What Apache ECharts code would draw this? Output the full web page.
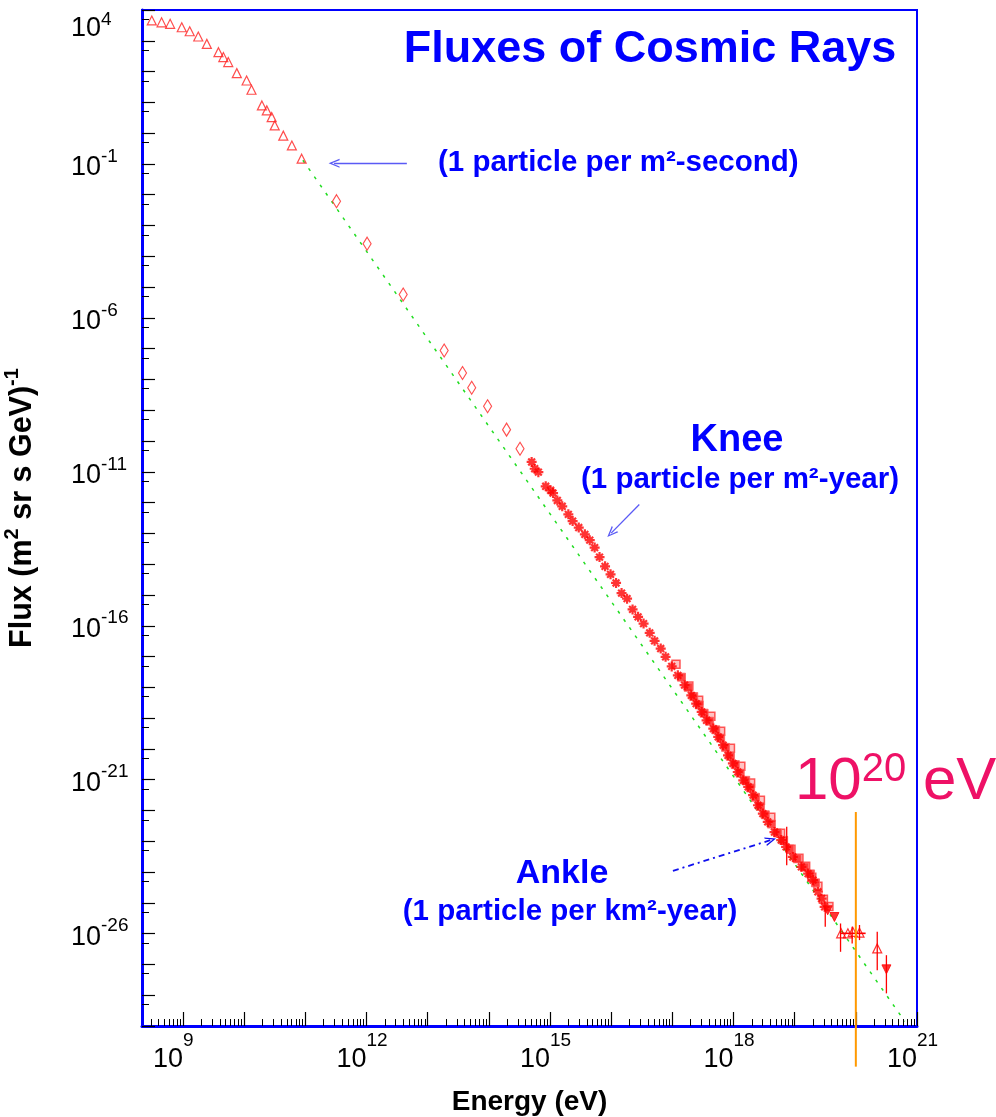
<!DOCTYPE html>
<html><head><meta charset="utf-8">
<script src="https://cdn.jsdelivr.net/npm/echarts@6/dist/echarts.min.js"></script>
<style>html,body{margin:0;padding:0;background:#fff}#c{width:996px;height:1117px}</style>
</head><body><div id="c"></div>
<script>
// All values are log10: energy in eV, flux in (m^2 sr s GeV)^-1
const triLogE = [8.49, 8.65, 8.79, 8.98, 9.11, 9.25, 9.39, 9.58, 9.66, 9.74, 9.88, 10.04, 10.12, 10.29, 10.37, 10.45, 10.50, 10.64, 10.78, 10.94];
const triLogF = [3.66, 3.60, 3.55, 3.44, 3.31, 3.14, 2.90, 2.63, 2.47, 2.31, 1.95, 1.71, 1.41, 0.90, 0.74, 0.52, 0.25, -0.08, -0.40, -0.83];

const diaLogE = [11.51, 12.01, 12.60, 13.27, 13.57, 13.72, 13.98, 14.29, 14.51];
const diaLogF = [-2.21, -3.59, -5.24, -7.06, -7.79, -8.27, -8.87, -9.63, -10.25];

const starLogE = [14.70, 14.75, 14.81, 14.93, 15.01, 15.05, 15.12, 15.20, 15.30, 15.37, 15.47, 15.57, 15.65, 15.73, 15.81, 15.90, 15.99, 16.08, 16.17, 16.26, 16.35, 16.44, 16.53, 16.63, 16.71, 16.81, 16.89, 16.99, 17.09, 17.20, 17.31, 17.39, 17.48, 17.56, 17.67, 17.75, 17.83, 17.91, 17.99, 18.07, 18.16, 18.24, 18.32, 18.40, 18.48, 18.56, 18.67, 18.78, 18.86, 18.97, 19.11, 19.22, 19.30, 19.38, 19.44, 19.49];
const starLogF = [-10.68, -10.90, -11.01, -11.47, -11.60, -11.69, -11.93, -12.12, -12.38, -12.60, -12.81, -13.03, -13.22, -13.46, -13.77, -14.07, -14.33, -14.61, -14.94, -15.12, -15.47, -15.71, -15.93, -16.23, -16.49, -16.74, -17.01, -17.32, -17.61, -17.93, -18.26, -18.53, -18.80, -19.07, -19.34, -19.61, -19.88, -20.21, -20.47, -20.75, -21.02, -21.23, -21.50, -21.83, -22.10, -22.37, -22.70, -22.96, -23.18, -23.51, -23.83, -24.05, -24.26, -24.64, -24.86, -25.13];

const sqLogE = [17.06, 17.27, 17.43, 17.63, 17.79, 17.95, 18.12, 18.28, 18.44, 18.61, 18.77, 18.94, 19.07, 19.18, 19.28, 19.38, 19.47, 19.56];
const sqLogF = [-17.25, -17.96, -18.42, -18.94, -19.43, -19.98, -20.56, -21.11, -21.67, -22.22, -22.74, -23.26, -23.55, -23.81, -24.17, -24.46, -24.88, -25.12];

const bandLogE = [17.15, 17.26, 17.35, 17.44, 17.52, 17.61, 17.71, 17.79, 17.87, 17.95, 18.03, 18.11, 18.20, 18.28, 18.36, 18.44, 18.52, 18.62, 18.72, 18.82, 18.92, 19.04, 19.16, 19.26, 19.34];
const bandLogF = [-17.67, -18.00, -18.30, -18.57, -18.84, -19.10, -19.38, -19.65, -19.95, -20.24, -20.51, -20.79, -21.02, -21.27, -21.57, -21.87, -22.14, -22.44, -22.73, -22.97, -23.25, -23.57, -23.84, -24.06, -24.35];

const downLogE = [19.54, 19.65, 20.50];
const downLogF = [-25.24, -25.46, -27.16];

const upLogE = [19.76, 19.87, 19.95, 20.06, 20.35];
const upLogF = [-25.99, -25.99, -25.94, -25.97, -26.48];

const errLogE  = [18.87, 19.50, 19.75, 19.94, 20.06, 20.35, 20.50];
const errLogLo = [-23.78, -25.78, -26.59, -26.32, -26.21, -27.19, -27.94];
const errLogHi = [-22.53, -25.13, -25.67, -25.78, -25.72, -25.94, -26.70];

const hErrLogELo = [19.74];
const hErrLogEHi = [20.16];
const hErrLogF = [-25.99];

const fitLogE = [10.96, 20.80];
const fitLogF = [-0.88, -28.85];

const markerLogE = [20.0, 20.0];
const markerLogF = [-22.05, -30.32];

// annotation arrows [fromE, fromF, toE, toF]
const arrowSecond = [12.66, -0.98, 11.47, -0.98];
const arrowKnee   = [16.46, -12.06, 16.00, -12.99];
const arrowAnkle  = [17.01, -23.96, 18.61, -22.96];

const xLabelExps = [9, 12, 15, 18, 21];
const yLabelExps = [-1, -6, -11, -16, -21, -26];
const yTopLabelExps = [4];
const X_MIN = 8.33, X_MAX = 21, Y_MIN = -29, Y_MAX = 4;

const xMajor = [], xMinor = [], yMajor = [], yMinor = [];
for (let n = 9; n <= 21; n++) xMajor.push(n);
for (let n = 8; n <= 20; n++) for (let k = 2; k <= 9; k++) { const v = n + Math.log10(k); if (v > X_MIN && v < X_MAX) xMinor.push(v); }
for (let n = Y_MIN; n <= Y_MAX; n++) yMajor.push(n);
for (let n = Y_MIN + 1; n <= Y_MAX; n++) yMinor.push(n - Math.log10(2));

const zip = (a, b) => a.map((v, i) => [v, b[i]]);
const FONT = 'Liberation Sans, Arial, sans-serif';
const BLUE = '#0000ff';
const RED = '#ff0000';

const starPath = 'path://M5,0L5,10M0,5L10,5M1.6,1.6L8.4,8.4M8.4,1.6L1.6,8.4';
const chevron = 'path://M5,0L10,10L8.4,10L5,3L1.6,10L0,10Z';

const labelRich = {
  b: {fontSize: 27, lineHeight: 34, verticalAlign: 'bottom', color: '#000', fontFamily: FONT},
  s: {fontSize: 19, lineHeight: 19, verticalAlign: 'top', color: '#000', fontFamily: FONT},
  b4: {fontSize: 27, lineHeight: 32, verticalAlign: 'bottom', color: '#000', fontFamily: FONT},
  s4: {fontSize: 19, lineHeight: 19, verticalAlign: 'top', color: '#000', fontFamily: FONT}
};

const chart = echarts.init(document.getElementById('c'), null, {renderer: 'canvas'});
const option = {
  animation: false,
  backgroundColor: '#fff',
  grid: {left: 142, right: 79, top: 10, bottom: 91, show: true, borderColor: BLUE, borderWidth: 2, backgroundColor: '#fff',
    containLabel: false, outerBoundsMode: 'none'},
  xAxis: [
    {
      type: 'value', min: X_MIN, max: X_MAX, position: 'bottom',
      axisLine: {show: true, onZero: false, lineStyle: {color: BLUE, width: 3}},
      axisTick: {show: true, inside: true, length: 14, customValues: xMajor, lineStyle: {color: '#000', width: 1.2}},
      axisLabel: {show: true, customValues: xLabelExps, formatter: () => '10', align: 'right', margin: 20,
        fontSize: 27, color: '#000', fontFamily: FONT},
      splitLine: {show: false},
      name: 'Energy (eV)', nameLocation: 'middle', nameGap: 62,
      nameTextStyle: {fontSize: 28, fontWeight: 'bold', color: '#000', fontFamily: FONT}
    },
    {
      type: 'value', min: X_MIN, max: X_MAX, position: 'bottom',
      axisLine: {show: false, onZero: false},
      axisTick: {show: true, inside: true, length: 7, customValues: xMinor, lineStyle: {color: '#000', width: 1}},
      axisLabel: {show: true, customValues: xLabelExps, formatter: v => String(Math.round(v)), align: 'left', margin: 5,
        fontSize: 19, color: '#000', fontFamily: FONT},
      splitLine: {show: false}
    }
  ],
  yAxis: [
    {
      type: 'value', min: Y_MIN, max: Y_MAX, position: 'left',
      axisLine: {show: true, onZero: false, lineStyle: {color: BLUE, width: 3}},
      axisTick: {show: true, inside: true, length: 13, customValues: yMajor, lineStyle: {color: '#000', width: 1.2}},
      axisLabel: {
        show: true, customValues: yLabelExps, align: 'left', margin: 71,
        formatter: v => '{b|10}{s|' + Math.round(v) + '}', rich: labelRich
      },
      splitLine: {show: false},
      name: '{a|Flux (m}{s|2}{a| sr s GeV)}{s|-1}', nameLocation: 'middle', nameGap: 104,
      nameTextStyle: {
        padding: [0, 0, 0, 20],
        rich: {
          a: {fontSize: 30.5, lineHeight: 36, verticalAlign: 'bottom', fontWeight: 'bold', color: '#000', fontFamily: FONT},
          s: {fontSize: 20, lineHeight: 20, verticalAlign: 'top', fontWeight: 'bold', color: '#000', fontFamily: FONT}
        }
      }
    },
    {
      type: 'value', min: Y_MIN, max: Y_MAX, position: 'left',
      axisLine: {show: false, onZero: false},
      axisTick: {show: true, inside: true, length: 7, customValues: yMinor, lineStyle: {color: '#000', width: 1}},
      axisLabel: {show: false},
      splitLine: {show: false}
    },
    {
      type: 'value', min: Y_MIN, max: Y_MAX, position: 'left',
      axisLine: {show: false, onZero: false},
      axisTick: {show: false},
      axisLabel: {
        show: true, customValues: yTopLabelExps, align: 'left', verticalAlign: 'top', margin: 71,
        formatter: v => '{b4|10}{s4|' + Math.round(v) + '}', rich: labelRich
      },
      splitLine: {show: false}
    }
  ],
  series: [
    {
      name: 'power-law fit', type: 'line', data: zip(fitLogE, fitLogF), showSymbol: false, symbol: 'none',
      lineStyle: {color: '#22dd22', width: 1.5, type: [3, 7]}, z: 2
    },
    {
      name: 'direct', type: 'scatter', data: zip(triLogE, triLogF), symbol: 'triangle', symbolSize: 9,
      itemStyle: {color: 'rgba(255,255,255,0)', borderColor: '#ff2020', borderWidth: 1.2}, z: 3
    },
    {
      name: 'diamonds', type: 'scatter', data: zip(diaLogE, diaLogF), symbol: 'diamond', symbolSize: [8, 13],
      itemStyle: {color: 'rgba(255,255,255,0)', borderColor: '#ff2020', borderWidth: 1.2}, z: 3
    },
    {
      name: 'air showers band', type: 'scatter', data: zip(sqLogE, sqLogF), symbol: 'rect', symbolSize: 8,
      itemStyle: {color: 'rgba(255,90,90,0.45)', borderColor: '#ff3030', borderWidth: 1.5}, z: 3
    },
    {
      name: 'air showers dense', type: 'scatter', data: zip(bandLogE, bandLogF), symbol: 'rect', symbolSize: 8,
      itemStyle: {color: '#ff1a1a', borderColor: '#ff6060', borderWidth: 1}, z: 3
    },
    {
      name: 'air showers', type: 'scatter', data: zip(starLogE, starLogF), symbol: starPath, symbolSize: 10,
      itemStyle: {color: RED, borderColor: RED, borderWidth: 2.2}, z: 4
    },
    {
      name: 'upper', type: 'scatter', data: zip(downLogE, downLogF), symbol: 'triangle', symbolRotate: 180, symbolSize: 9,
      itemStyle: {color: RED, borderColor: RED, borderWidth: 1}, z: 4
    },
    {
      name: 'highest', type: 'scatter', data: zip(upLogE, upLogF), symbol: 'triangle', symbolSize: 9,
      itemStyle: {color: 'rgba(255,255,255,0)', borderColor: RED, borderWidth: 1.2}, z: 4
    },
    {
      name: 'error bars', type: 'custom', z: 4,
      data: errLogE.map((e, i) => [e, errLogLo[i], errLogHi[i]]),
      encode: {x: 0, y: [1, 2]},
      renderItem: (params, api) => {
        const p1 = api.coord([api.value(0), api.value(1)]);
        const p2 = api.coord([api.value(0), api.value(2)]);
        return {type: 'line', shape: {x1: p1[0], y1: p1[1], x2: p2[0], y2: p2[1]}, style: {stroke: RED, lineWidth: 1.3}};
      }
    },
    {
      name: 'energy bins', type: 'custom', z: 4,
      data: hErrLogELo.map((e, i) => [e, hErrLogEHi[i], hErrLogF[i]]),
      encode: {x: [0, 1], y: 2},
      renderItem: (params, api) => {
        const p1 = api.coord([api.value(0), api.value(2)]);
        const p2 = api.coord([api.value(1), api.value(2)]);
        return {type: 'line', shape: {x1: p1[0], y1: p1[1], x2: p2[0], y2: p2[1]}, style: {stroke: RED, lineWidth: 1.6}};
      }
    },
    {
      name: '1e20 eV', type: 'line', data: zip(markerLogE, markerLogF), showSymbol: false, symbol: 'none', clip: false,
      lineStyle: {color: '#ff9900', width: 2}, z: 5,
      markLine: {
        silent: true, animation: false, symbol: ['none', chevron], symbolSize: [9, 11], label: {show: false},
        data: [
          [{coord: [arrowSecond[0], arrowSecond[1]], lineStyle: {color: '#5a5af5', width: 1.3, type: 'solid'}, itemStyle: {color: '#5a5af5'}},
           {coord: [arrowSecond[2], arrowSecond[3]]}],
          [{coord: [arrowKnee[0], arrowKnee[1]], lineStyle: {color: '#5a5af5', width: 1.3, type: 'solid'}, itemStyle: {color: '#5a5af5'}},
           {coord: [arrowKnee[2], arrowKnee[3]]}],
          [{coord: [arrowAnkle[0], arrowAnkle[1]], lineStyle: {color: '#1010ee', width: 1.8, type: [6, 4, 2, 4]}, itemStyle: {color: '#1010ee'}},
           {coord: [arrowAnkle[2], arrowAnkle[3]]}]
        ]
      }
    }
  ],
  graphic: [
    {type: 'text', x: 650, y: 50, style: {text: 'Fluxes of Cosmic Rays', fill: BLUE, font: 'bold 45px ' + FONT, textAlign: 'center', textVerticalAlign: 'middle', align: 'center', verticalAlign: 'middle'}},
    {type: 'text', x: 438, y: 163, style: {text: '(1 particle per m²-second)', fill: BLUE, font: 'bold 29.5px ' + FONT, textAlign: 'left', textVerticalAlign: 'middle', align: 'left', verticalAlign: 'middle'}},
    {type: 'text', x: 737, y: 441, style: {text: 'Knee', fill: BLUE, font: 'bold 38px ' + FONT, textAlign: 'center', textVerticalAlign: 'middle', align: 'center', verticalAlign: 'middle'}},
    {type: 'text', x: 740, y: 480, style: {text: '(1 particle per m²-year)', fill: BLUE, font: 'bold 29.5px ' + FONT, textAlign: 'center', textVerticalAlign: 'middle', align: 'center', verticalAlign: 'middle'}},
    {type: 'text', x: 562, y: 874, style: {text: 'Ankle', fill: BLUE, font: 'bold 34px ' + FONT, textAlign: 'center', textVerticalAlign: 'middle', align: 'center', verticalAlign: 'middle'}},
    {type: 'text', x: 570, y: 912, style: {text: '(1 particle per km²-year)', fill: BLUE, font: 'bold 29.5px ' + FONT, textAlign: 'center', textVerticalAlign: 'middle', align: 'center', verticalAlign: 'middle'}},
    {type: 'text', x: 795, y: 781, style: {
      text: '{b|10}{s|20}{b| eV}', textAlign: 'left', textVerticalAlign: 'middle', align: 'left', verticalAlign: 'middle',
      rich: {
        b: {fontSize: 60, lineHeight: 62, verticalAlign: 'bottom', fill: '#ee1166', color: '#ee1166', fontFamily: FONT},
        s: {fontSize: 40, lineHeight: 40, verticalAlign: 'top', fill: '#ee1166', color: '#ee1166', fontFamily: FONT}
      }
    }}
  ]
};
chart.setOption(option);
</script>
</body></html>
